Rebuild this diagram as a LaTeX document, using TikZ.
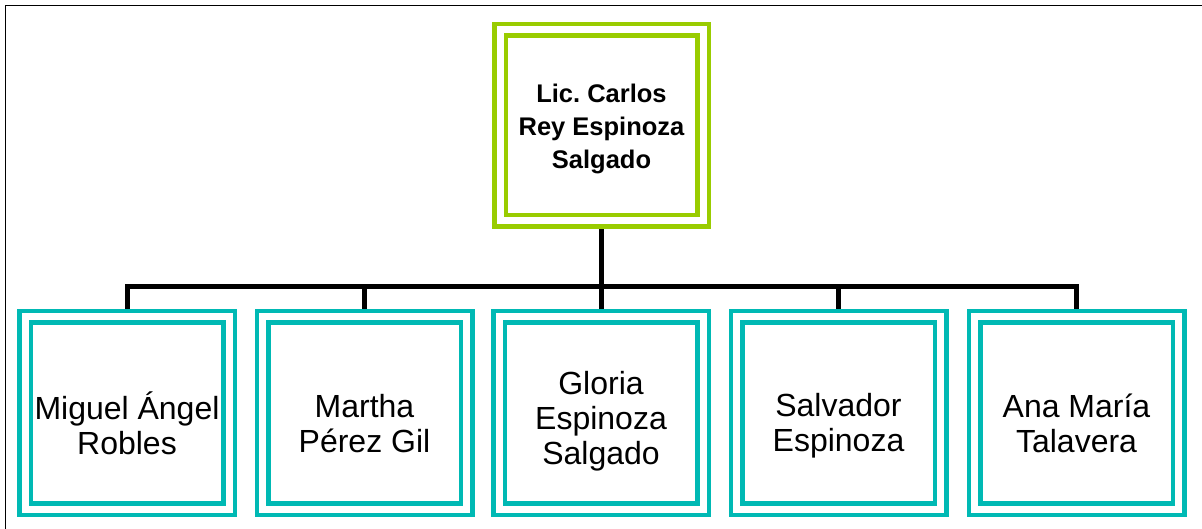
\documentclass[tikz,border=0pt]{standalone}
\usepackage{fontspec}
\setmainfont{Liberation Sans}
\usetikzlibrary{backgrounds}
\definecolor{lgreen}{RGB}{153,204,0}
\definecolor{tealb}{RGB}{0,185,180}
\frenchspacing
\begin{document}
\begin{tikzpicture}[x=1pt,y=-1pt,
  dbox/.style={draw=#1, double=white, double distance=7pt, line width=4.5pt,
    fill=white, minimum width=204pt, minimum height=192pt, inner sep=0pt},
  ttxt/.style={font=\bfseries\fontsize{25.5}{33}\selectfont, align=center, inner sep=0pt},
  btxt/.style={font=\fontsize{32}{35}\selectfont, align=center, inner sep=0pt},
  conn/.style={line width=5pt, line join=miter}]
\useasboundingbox (0,0) rectangle (1202,529);
\draw[line width=1.8pt] (1202,5.5) -- (5.5,5.5) -- (5.5,529);
% boxes
\node[dbox=lgreen, minimum width=203pt, minimum height=191pt] (top) at (601.5,125.5) {};
\node[dbox=tealb] (b1) at (127,413) {};
\node[dbox=tealb] (b2) at (364.5,413) {};
\node[dbox=tealb] (b3) at (601,413) {};
\node[dbox=tealb] (b4) at (838.5,413) {};
\node[dbox=tealb] (b5) at (1076.5,413) {};
\coordinate (bar) at (601,287);
% connectors
\begin{pgfonlayer}{background}
\draw[conn] (top.south) -- (top.south |- bar);
\draw[conn] (b1.north) -- (b1.north |- bar) -- (b5.north |- bar) -- (b5.north);
\draw[conn] (b2.north) -- (b2.north |- bar);
\draw[conn] (b3.north) -- (b3.north |- bar);
\draw[conn] (b4.north) -- (b4.north |- bar);
\end{pgfonlayer}
% texts
\node[ttxt] (ttop) at ([yshift=-3]top.center) {Lic. Carlos\\Rey Espinoza\\Salgado};
\node[btxt] (t1) at ([yshift=-10]b1.center) {Miguel Ángel\\Robles};
\node[btxt] (t2) at ([yshift=-11]b2.center) {Martha\\Pérez Gil};
\node[btxt] (t3) at ([yshift=-8]b3.center) {Gloria\\Espinoza\\Salgado};
\node[btxt] (t4) at ([yshift=-13]b4.center) {Salvador\\Espinoza};
\node[btxt] (t5) at ([yshift=-10]b5.center) {Ana María\\Talavera};
\end{tikzpicture}
\end{document}
